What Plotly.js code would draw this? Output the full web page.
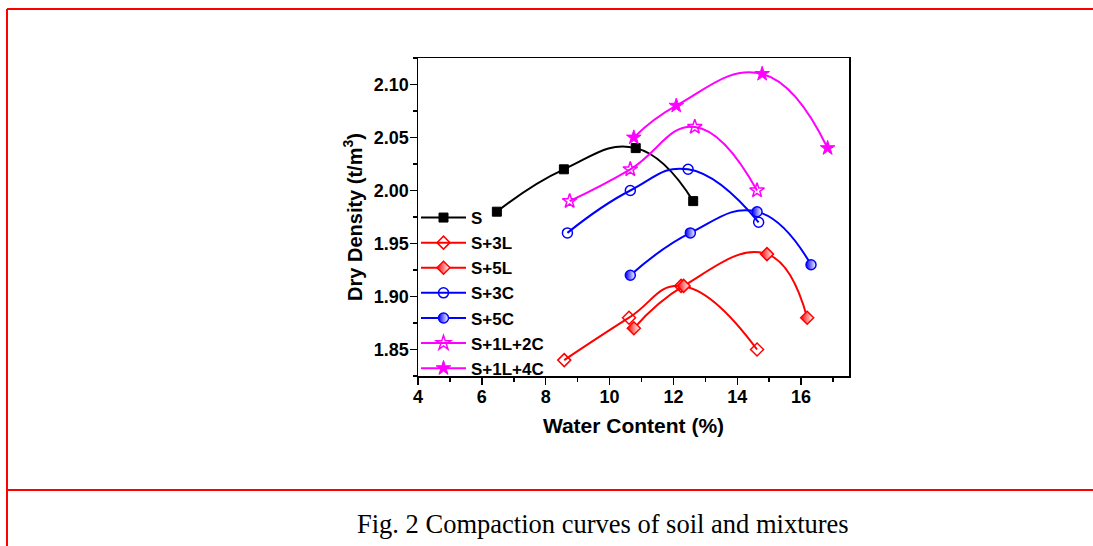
<!DOCTYPE html>
<html>
<head>
<meta charset="utf-8">
<script src="https://cdn.plot.ly/plotly-3.0.1.min.js"></script>
<style>
  html, body { margin: 0; padding: 0; background: #fff; }
  #chart { width: 1093px; height: 546px; }
</style>
</head>
<body>
<div id="chart"></div>
<script>
// ---- data ----
const seriesNames = ["S", "S+3L", "S+5L", "S+3C", "S+5C", "S+1L+2C", "S+1L+4C"];
const xS      = [6.47, 8.57, 10.82, 12.62];
const yS      = [1.98, 2.02, 2.04, 1.99];
const xS3L    = [8.58, 10.61, 12.24, 14.62];
const yS3L    = [1.84, 1.88, 1.91, 1.85];
const xS5L    = [10.76, 12.32, 14.93, 16.19];
const yS5L    = [1.87, 1.91, 1.94, 1.88];
const xS3C    = [8.68, 10.65, 12.46, 14.67];
const yS3C    = [1.96, 2.00, 2.02, 1.97];
const xS5C    = [10.65, 12.53, 14.62, 16.31];
const yS5C    = [1.92, 1.96, 1.98, 1.93];
const xS1L2C  = [8.75, 10.65, 12.67, 14.62];
const yS1L2C  = [1.99, 2.02, 2.06, 2.00];
const xS1L4C  = [10.76, 12.09, 14.78, 16.83];
const yS1L4C  = [2.05, 2.08, 2.11, 2.04];

const xTitle = "Water Content (%)";
const yTitle = "Dry Density (t/m<sup>3</sup>)";
const caption = "Fig. 2 Compaction curves of soil and mixtures";

// ---- layout geometry (pixels) ----
const W = 1093, H = 546;
const PL = 418, PR = 849, PT = 58, PB = 376;
const px = v => (v - PL) / (PR - PL);
const py = v => (PB - v) / (PB - PT);

const BOLD = {family: "Liberation Sans, Arial, sans-serif", weight: "bold", color: "#000"};

function tr(name, x, y, color, marker) {
  return {
    type: "scatter", mode: "lines+markers", name: name, x: x, y: y,
    line: {color: color, width: 2, shape: "spline", smoothing: 1.3},
    marker: marker, cliponaxis: false
  };
}

const traces = [
  tr(seriesNames[0], xS, yS, "#000000",
     {symbol: "square", size: 9, color: "#000000", line: {color: "#000000", width: 1}}),
  tr(seriesNames[1], xS3L, yS3L, "#ff0000",
     {symbol: "diamond-open", size: 10, color: "#ff0000", line: {color: "#ff0000", width: 1.5}}),
  tr(seriesNames[2], xS5L, yS5L, "#ff0000",
     {symbol: "diamond", size: 10, color: "#ff0000", gradient: {type: "horizontal", color: "#ffffff"},
      line: {color: "#ff0000", width: 1.5}}),
  tr(seriesNames[3], xS3C, yS3C, "#0000ff",
     {symbol: "circle-open", size: 10, color: "#0000ff", line: {color: "#0000ff", width: 1.5}}),
  tr(seriesNames[4], xS5C, yS5C, "#0000ff",
     {symbol: "circle", size: 10, color: "#0000ff", gradient: {type: "horizontal", color: "#ffffff"},
      line: {color: "#0000ff", width: 1.5}}),
  tr(seriesNames[5], xS1L2C, yS1L2C, "#ff00ff",
     {symbol: "star-open", size: 11, color: "#ff00ff", line: {color: "#ff00ff", width: 1.5}}),
  tr(seriesNames[6], xS1L4C, yS1L4C, "#ff00ff",
     {symbol: "star", size: 11, color: "#ff00ff", line: {color: "#ff00ff", width: 1}})
];

const red = {color: "#ff0000", width: 2};
const layout = {
  width: W, height: H,
  margin: {l: PL, r: W - PR, t: PT, b: H - PB, pad: 0},
  paper_bgcolor: "#ffffff", plot_bgcolor: "#ffffff",
  showlegend: true,
  legend: {
    x: px(416), y: py(200), xanchor: "left", yanchor: "top",
    bgcolor: "rgba(0,0,0,0)", borderwidth: 0,
    font: Object.assign({size: 17}, BOLD),
    itemwidth: 45,
    tracegroupgap: 0
  },
  xaxis: {
    range: [4, 17.5], dtick: 2, tick0: 0,
    showgrid: false, zeroline: false,
    showline: true, linecolor: "#000", linewidth: 1.5, mirror: true,
    ticks: "outside", ticklen: 7, tickwidth: 1.5, tickcolor: "#000",
    minor: {dtick: 1, ticks: "outside", ticklen: 4, tickwidth: 1.5, tickcolor: "#000"},
    tickfont: Object.assign({size: 18}, BOLD),
    ticklabelstandoff: -3,
    title: {text: xTitle, font: Object.assign({size: 21}, BOLD), standoff: 12},
    automargin: false
  },
  yaxis: {
    range: [1.825, 2.125], dtick: 0.05, tick0: 0, tickformat: ".2f",
    showgrid: false, zeroline: false,
    showline: true, linecolor: "#000", linewidth: 1.5, mirror: true,
    ticks: "outside", ticklen: 7, tickwidth: 1.5, tickcolor: "#000",
    minor: {dtick: 0.025, ticks: "outside", ticklen: 4, tickwidth: 1.5, tickcolor: "#000"},
    tickfont: Object.assign({size: 18}, BOLD),
    ticklabelstandoff: -3,
    title: {text: yTitle, font: Object.assign({size: 20}, BOLD), standoff: 6},
    automargin: false
  },
  shapes: [
    {type: "line", xref: "paper", yref: "paper", x0: px(7), x1: px(W + 5), y0: py(9), y1: py(9), line: red},
    {type: "line", xref: "paper", yref: "paper", x0: px(7), x1: px(7), y0: py(9), y1: py(H + 5), line: red},
    {type: "line", xref: "paper", yref: "paper", x0: px(7), x1: px(W + 5), y0: py(490), y1: py(490), line: red}
  ],
  annotations: [
    {text: caption, xref: "paper", yref: "paper", x: px(603), y: py(524),
     xanchor: "center", yanchor: "middle", showarrow: false,
     font: {family: "Liberation Serif, Times New Roman, serif", size: 26.5, color: "#000"}}
  ]
};

Plotly.newPlot("chart", traces, layout, {displayModeBar: false, staticPlot: true});
</script>
</body>
</html>
